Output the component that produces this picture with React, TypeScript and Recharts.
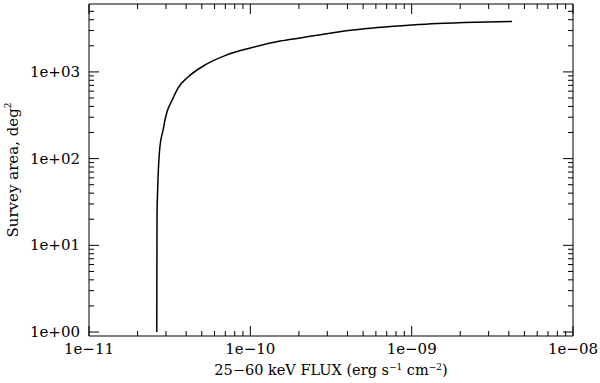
import React from 'react';
import { LineChart, Line, XAxis, YAxis, Label } from 'recharts';

// survey area vs limiting flux
const FLUX = [
  2.63e-11, 2.64e-11, 2.66e-11, 2.68e-11, 2.75e-11, 2.88e-11, 2.96e-11, 3.05e-11,
  3.27e-11, 3.56e-11, 4.11e-11, 5.24e-11, 6.97e-11, 1.0e-10, 1.53e-10, 2.03e-10,
  4.33e-10, 1.0e-9, 1.44e-9, 2.5e-9, 4.19e-9,
];
const AREA = [
  1.0, 21, 40, 61, 136, 214, 280, 350, 470, 652, 873, 1202, 1540, 1887, 2272, 2461,
  3043, 3475, 3620, 3750, 3820,
];

const X_DECADES = [-11, -10, -9];
const Y_DECADES = [0, 1, 2, 3];
const X_DOMAIN = [1e-11, 1e-8];
const Y_DOMAIN = [0.9, 6070];

const data = FLUX.map((f, i) => ({ flux: f, area: AREA[i] }));

const xTicks: number[] = [];
X_DECADES.forEach((e) => {
  for (let k = 1; k < 10; k++) xTicks.push(k * Math.pow(10, e));
});
xTicks.push(1e-8);

const yTicks: number[] = [];
Y_DECADES.forEach((e) => {
  for (let k = 1; k < 10; k++) {
    const v = k * Math.pow(10, e);
    if (v <= 5000) yTicks.push(v);
  }
});

const FONT = '"DejaVu Serif", serif';
const MAJOR = 10;
const MINOR = 5;

const isMajor = (v: number) => {
  const l = Math.log10(v);
  return Math.abs(l - Math.round(l)) < 1e-6;
};

const fmt = (v: number) => {
  const e = Math.round(Math.log10(v));
  const s = e < 0 ? '\u2212' : '+';
  const a = Math.abs(e);
  return `1e${s}${a < 10 ? '0' + a : a}`;
};

const BottomTick = ({ x, y, payload }: any) => {
  const major = isMajor(payload.value);
  return (
    <g>
      <line x1={x} x2={x} y1={y} y2={y - (major ? MAJOR : MINOR)} stroke="#000" />
      {major && (
        <text x={x} y={y + 18} textAnchor="middle" fontFamily={FONT} fontSize={15} fill="#000">
          {fmt(payload.value)}
        </text>
      )}
    </g>
  );
};

const TopTick = ({ x, y, payload }: any) => {
  const major = isMajor(payload.value);
  return <line x1={x} x2={x} y1={y} y2={y + (major ? MAJOR : MINOR)} stroke="#000" />;
};

const LeftTick = ({ x, y, payload }: any) => {
  const major = isMajor(payload.value);
  return (
    <g>
      <line x1={x} x2={x + (major ? MAJOR : MINOR)} y1={y} y2={y} stroke="#000" />
      {major && (
        <text x={x - 9} y={y} textAnchor="end" dominantBaseline="central" fontFamily={FONT} fontSize={15} fill="#000">
          {fmt(payload.value)}
        </text>
      )}
    </g>
  );
};

const RightTick = ({ x, y, payload }: any) => {
  const major = isMajor(payload.value);
  return <line x1={x} x2={x - (major ? MAJOR : MINOR)} y1={y} y2={y} stroke="#000" />;
};

const XTitle = ({ viewBox }: any) => {
  const cx = viewBox.x + viewBox.width / 2;
  return (
    <text x={cx} y={375} textAnchor="middle" fontFamily={FONT} fontSize={14.5} fill="#000">
      25{'\u2212'}60 keV FLUX (erg s
      <tspan dy={-5} fontSize={9}>{'\u2212'}1</tspan>
      <tspan dy={5}> cm</tspan>
      <tspan dy={-5} fontSize={9}>{'\u2212'}2</tspan>
      <tspan dy={5}>)</tspan>
    </text>
  );
};

const YTitle = ({ viewBox }: any) => {
  const cy = viewBox.y + viewBox.height / 2;
  return (
    <text
      x={13}
      y={cy}
      transform={`rotate(-90 13 ${cy})`}
      textAnchor="middle"
      dominantBaseline="central"
      fontFamily={FONT}
      fontSize={15}
      fill="#000"
    >
      Survey area, deg
      <tspan dy={-5} fontSize={9}>2</tspan>
    </text>
  );
};

export default function App() {
  return (
    <div style={{ position: 'absolute', left: 0, top: 0, width: 600, height: 383, background: '#fff' }}>
      <LineChart width={600} height={383} data={data} margin={{ top: 3, right: 26, bottom: 0, left: 0 }}>
        <XAxis
          xAxisId="bottom"
          dataKey="flux"
          type="number"
          scale="log"
          domain={X_DOMAIN}
          allowDataOverflow
          ticks={xTicks}
          interval={0}
          height={47}
          tickSize={0}
          tickMargin={0}
          tickLine={false}
          tick={<BottomTick />}
          axisLine={{ stroke: '#000' }}
        >
          <Label content={<XTitle />} />
        </XAxis>
        <XAxis
          xAxisId="top"
          orientation="top"
          dataKey="flux"
          type="number"
          scale="log"
          domain={X_DOMAIN}
          allowDataOverflow
          ticks={xTicks}
          interval={0}
          height={1}
          tickSize={0}
          tickMargin={0}
          tickLine={false}
          tick={<TopTick />}
          axisLine={{ stroke: '#000' }}
        />
        <YAxis
          yAxisId="left"
          type="number"
          scale="log"
          domain={Y_DOMAIN}
          allowDataOverflow
          ticks={yTicks}
          interval={0}
          width={89}
          tickSize={0}
          tickMargin={0}
          tickLine={false}
          tick={<LeftTick />}
          axisLine={{ stroke: '#000' }}
        >
          <Label content={<YTitle />} />
        </YAxis>
        <YAxis
          yAxisId="right"
          orientation="right"
          type="number"
          scale="log"
          domain={Y_DOMAIN}
          allowDataOverflow
          ticks={yTicks}
          interval={0}
          width={1}
          tickSize={0}
          tickMargin={0}
          tickLine={false}
          tick={<RightTick />}
          axisLine={{ stroke: '#000' }}
        />
        <Line
          xAxisId="bottom"
          yAxisId="left"
          dataKey="area"
          type="monotone"
          stroke="#000"
          strokeWidth={1.5}
          dot={false}
          isAnimationActive={false}
        />
      </LineChart>
    </div>
  );
}
